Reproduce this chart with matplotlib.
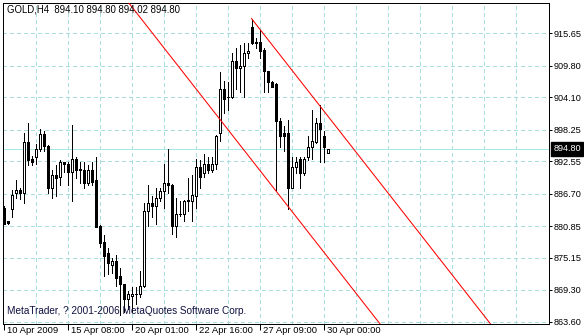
import numpy as np
import matplotlib
matplotlib.use('Agg')
import matplotlib.pyplot as plt

plt.rcParams['font.family'] = ['Liberation Sans', 'DejaVu Sans']

# GOLD H4 bars (open, high, low, close), oldest first
opens = [884.20, 881.70, 884.00, 886.75, 887.30, 886.75, 895.95, 893.05, 893.25, 894.85,
         897.40, 895.40, 887.80, 890.15, 889.65, 892.35, 892.00, 890.70, 892.90, 891.25,
         891.05, 888.70, 891.05, 889.25, 880.95, 877.90, 875.90, 873.90, 874.45, 871.75,
         870.30, 867.75, 868.30, 868.50, 868.50, 870.10, 883.65, 884.95, 884.40, 885.85,
         887.10, 888.70, 888.35, 880.95, 883.10, 882.95, 885.45, 885.30, 886.35, 891.60,
         890.35, 892.15, 891.05, 892.15, 897.75, 905.70, 904.25, 904.10, 910.75, 909.50,
         909.85, 912.05, 916.75, 913.85, 914.20, 912.75, 908.80, 906.95, 906.60, 899.75,
         897.60, 897.60, 887.80, 891.45, 893.05, 890.35, 893.25, 895.05, 895.95, 899.55,
         897.20, 894.10]
highs = [884.55, 881.85, 887.30, 889.10, 887.80, 897.75, 899.55, 893.60, 895.75, 898.30,
         898.10, 895.45, 890.90, 891.80, 892.70, 892.40, 892.35, 899.20, 893.25, 892.35,
         892.35, 891.80, 892.35, 893.40, 881.00, 879.15, 876.80, 875.15, 875.70, 873.35,
         870.45, 869.20, 869.75, 869.75, 872.80, 885.10, 888.20, 886.35, 887.65, 887.80,
         892.15, 894.85, 888.40, 885.85, 885.45, 885.50, 889.45, 890.00, 893.05, 892.70,
         893.95, 893.25, 893.25, 897.25, 908.60, 907.15, 906.80, 912.20, 912.95, 913.50,
         913.85, 913.85, 918.35, 914.75, 916.20, 912.95, 908.85, 907.15, 906.65, 900.45,
         899.00, 899.95, 893.25, 893.25, 893.25, 893.25, 897.20, 901.75, 900.45, 902.65,
         897.95, 894.80]
lows = [881.25, 881.25, 882.40, 885.85, 885.65, 884.95, 891.80, 891.80, 892.15, 894.50,
        894.50, 886.90, 886.00, 886.35, 888.20, 890.55, 888.20, 885.30, 889.45, 888.70,
        887.65, 888.20, 888.20, 880.60, 877.00, 871.90, 872.20, 872.45, 870.10, 864.70,
        865.25, 865.95, 865.25, 866.85, 867.95, 869.75, 880.95, 882.40, 881.30, 885.45,
        884.20, 886.75, 879.50, 878.80, 882.75, 881.85, 883.65, 881.85, 884.20, 887.80,
        889.65, 890.35, 890.55, 891.25, 896.30, 901.35, 901.75, 904.05, 905.70, 905.15,
        904.10, 911.15, 913.80, 913.10, 911.15, 905.00, 905.00, 905.90, 887.30, 895.05,
        894.50, 883.85, 887.65, 890.35, 887.65, 890.00, 892.70, 893.05, 895.90, 892.35,
        892.35, 894.02]
closes = [881.30, 881.35, 886.55, 887.30, 886.75, 895.95, 892.70, 892.50, 894.85, 897.40,
          895.25, 887.80, 890.15, 889.45, 892.35, 892.00, 890.70, 892.90, 891.05, 890.90,
          888.70, 891.05, 888.90, 880.75, 877.70, 875.35, 874.10, 874.45, 871.55, 870.30,
          867.75, 868.50, 868.65, 868.65, 870.10, 883.65, 884.95, 884.55, 885.85, 887.10,
          888.70, 888.35, 880.95, 882.95, 882.95, 885.45, 885.50, 886.55, 891.60, 889.80,
          892.15, 890.90, 892.15, 897.20, 905.70, 903.90, 904.20, 910.60, 909.50, 909.85,
          912.05, 912.55, 913.85, 914.20, 912.55, 908.80, 906.80, 906.05, 899.75, 897.20,
          897.20, 887.80, 891.45, 892.35, 890.35, 893.05, 895.05, 896.15, 899.55, 898.30,
          895.05, 894.80]

date_bars = [0, 16, 32, 48, 64, 80]
date_labels = ['10 Apr 2009', '15 Apr 08:00', '20 Apr 01:00', '22 Apr 16:00', '27 Apr 09:00', '30 Apr 00:00']
price_ticks = [915.65, 909.80, 904.10, 898.25, 892.55, 886.70, 880.85, 875.15, 869.30, 863.60]
last_price = 894.80

# equidistant channel: upper line through two highs, lower line parallel through one low
chan_bars = [62, 79]
chan_prices = [918.35, 902.65]
chan_low_bar = 68
chan_low_price = 887.30

W, H = 584, 336
px = 0.72  # one pixel in points at dpi 100
grid_col = '#a8dede'

fig = plt.figure(figsize=(W / 100, H / 100), dpi=100)
ax = fig.add_axes([2.5 / W, 12.5 / H, 546 / W, 321 / H])
ax.set_xlim(-0.25, 136.25)
ax.set_ylim(863.24, 921.25)

# grid
for b in range(8, 136, 8):
    ax.axvline(b, color=grid_col, lw=px, dashes=(4, 3), antialiased=False, zorder=0)
for p in price_ticks:
    ax.axhline(p, color=grid_col, lw=px, dashes=(4, 3), antialiased=False, zorder=0)
ax.axhline(last_price, color='#a6e8e8', lw=px, antialiased=False, zorder=0.5)

# candles
o = np.array(opens)
h = np.array(highs)
l = np.array(lows)
c = np.array(closes)
x = np.arange(len(o))
up = c >= o
ax.vlines(x, l, h, color='black', lw=px, antialiased=False, zorder=2)
body_lo = np.minimum(o, c)
body_h = np.abs(c - o)
ax.bar(x, body_h, bottom=body_lo, width=0.5, color=np.where(up, 'white', 'black'),
       edgecolor='black', linewidth=px, antialiased=False, zorder=3)

# channel
slope = (chan_prices[1] - chan_prices[0]) / (chan_bars[1] - chan_bars[0])
xe = 140
ax.plot([chan_bars[0], xe], [chan_prices[0], chan_prices[0] + slope * (xe - chan_bars[0])],
        color='red', lw=0.75, zorder=4)
xs = 20
ax.plot([xs, xe], [chan_low_price + slope * (xs - chan_low_bar), chan_low_price + slope * (xe - chan_low_bar)],
        color='red', lw=0.75, zorder=4)

# axes styling
for s in ax.spines.values():
    s.set_linewidth(px)
    s.set_color('black')
ax.yaxis.tick_right()
ax.set_yticks(price_ticks)
ax.set_yticklabels(['%.2f' % p for p in price_ticks])
ax.tick_params(axis='y', length=3 * px, width=px, pad=2 * px, labelsize=6.6, colors='black')
ax.set_xticks(date_bars)
ax.set_xticklabels([''] * len(date_bars))
ax.tick_params(axis='x', length=6 * px, width=px, direction='out')
for b, lab in zip(date_bars, date_labels):
    ax.annotate(lab, xy=(b, 0), xycoords=('data', 'axes fraction'), xytext=(3.5 * px, -2.5 * px),
                textcoords='offset points', ha='left', va='top', fontsize=6.8, annotation_clip=False)

ax.annotate('%.2f' % last_price, xy=(1, last_price), xycoords=('axes fraction', 'data'),
            xytext=(5 * px, 0), textcoords='offset points', ha='left', va='center',
            fontsize=6.6, color='white', annotation_clip=False,
            bbox=dict(boxstyle='square,pad=0.25', fc='black', ec='black'), zorder=10)

fig.text(7 / W, 1 - 10 / H, 'GOLD,H4  894.10 894.80 894.02 894.80', fontsize=6.9, va='center', ha='left')
fig.text(7 / W, 1 - 311 / H, 'MetaTrader, ? 2001-2006 MetaQuotes Software Corp.', fontsize=7.2,
         va='center', ha='left', color='#101040')

fig.savefig('out.png', dpi=100)
